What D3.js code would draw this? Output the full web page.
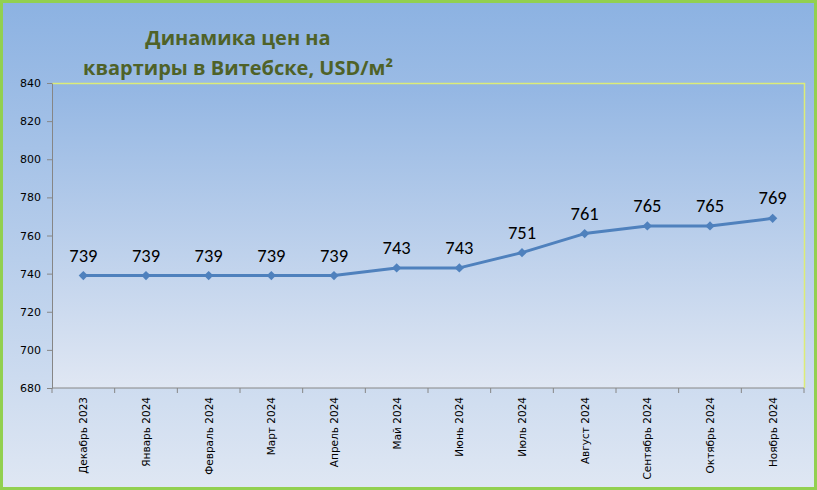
<!DOCTYPE html>
<html>
<head>
<meta charset="utf-8">
<script src="https://cdn.jsdelivr.net/npm/d3@7"></script>
<style>
	body { margin: 0; }
	svg { display: block; }
</style>
</head>
<body>
<div id="chart"></div>
<script>
var months = ["Декабрь 2023", "Январь 2024", "Февраль 2024", "Март 2024", "Апрель 2024", "Май 2024",
	"Июнь 2024", "Июль 2024", "Август 2024", "Сентябрь 2024", "Октябрь 2024", "Ноябрь 2024"]
var prices = [739, 739, 739, 739, 739, 743, 743, 751, 761, 765, 765, 769]
var yTicks = [680, 700, 720, 740, 760, 780, 800, 820, 840]
var titleLines = ["Динамика цен на", "квартиры в Витебске, USD/м²"]

var width = 817, height = 490
var plot = {left: 52, top: 83, right: 804, bottom: 388}

var svg = d3.select("#chart").append("svg")
	.attr("width", width)
	.attr("height", height)

var defs = svg.append("defs")

function gradient(id, c1, c2) {
	var g = defs.append("linearGradient").attr("id", id)
		.attr("x1", 0).attr("y1", 0).attr("x2", 0).attr("y2", 1)
	g.append("stop").attr("offset", "0%").attr("stop-color", c1)
	g.append("stop").attr("offset", "100%").attr("stop-color", c2)
}
gradient("bgGrad", "#8cb2e2", "#dfe7f3")
gradient("plotGrad", "#93b6e3", "#e0e7f3")

// outer frame
svg.append("rect")
	.attr("x", 1.5).attr("y", 1.5)
	.attr("width", width - 3).attr("height", height - 3)
	.attr("fill", "url(#bgGrad)")
	.attr("stroke", "#92d050")
	.attr("stroke-width", 3)

var x = d3.scaleBand().domain(months).range([plot.left, plot.right])
var y = d3.scaleLinear().domain([680, 840]).range([plot.bottom, plot.top])

// plot area
svg.append("rect")
	.attr("x", plot.left).attr("y", plot.top)
	.attr("width", plot.right - plot.left).attr("height", plot.bottom - plot.top)
	.attr("fill", "url(#plotGrad)")

svg.append("path")
	.attr("d", "M" + plot.left + "," + (plot.top + 0.5) + "H" + (plot.right + 0.5) + "V" + plot.bottom)
	.attr("fill", "none")
	.attr("stroke", "#dcec78")
	.attr("stroke-width", 1.5)

// y axis
var yAxis = svg.append("g")
	.attr("transform", "translate(" + plot.left + ",0)")
	.call(d3.axisLeft(y).tickValues(yTicks).tickSize(5).tickSizeOuter(0).tickPadding(6))
yAxis.selectAll("path, line").attr("stroke", "#868686")
yAxis.selectAll("text")
	.attr("font-family", "'DejaVu Sans', Verdana, sans-serif")
	.attr("font-size", "11px")
	.attr("fill", "#000")

// x axis, ticks on category boundaries
var xAxis = svg.append("g")
	.attr("transform", "translate(0," + plot.bottom + ")")
xAxis.append("line")
	.attr("x1", plot.left).attr("x2", plot.right)
	.attr("stroke", "#868686")
xAxis.selectAll(".tick")
	.data(months.concat([null]))
	.join("line")
	.attr("class", "tick")
	.attr("x1", function(d, i) { return plot.left + i * x.step() })
	.attr("x2", function(d, i) { return plot.left + i * x.step() })
	.attr("y1", 0).attr("y2", 5)
	.attr("stroke", "#868686")
xAxis.selectAll(".label")
	.data(months)
	.join("text")
	.attr("class", "label")
	.attr("transform", function(d) {
		return "translate(" + (x(d) + x.bandwidth() / 2 + 4) + ",9) rotate(-90)"
	})
	.attr("text-anchor", "end")
	.attr("font-family", "'DejaVu Sans', Verdana, sans-serif")
	.attr("font-size", "10.5px")
	.attr("fill", "#000")
	.text(function(d) { return d })

// series
var cx = function(d, i) { return x(months[i]) + x.bandwidth() / 2 }

svg.append("path")
	.datum(prices)
	.attr("fill", "none")
	.attr("stroke", "#4f81bd")
	.attr("stroke-width", 3)
	.attr("stroke-linejoin", "round")
	.attr("d", d3.line().x(cx).y(function(d) { return y(d) }))

svg.selectAll(".marker")
	.data(prices)
	.join("path")
	.attr("class", "marker")
	.attr("transform", function(d, i) { return "translate(" + cx(d, i) + "," + y(d) + ")" })
	.attr("d", d3.symbol(d3.symbolDiamond2, 55))
	.attr("fill", "#4f81bd")

svg.selectAll(".value")
	.data(prices)
	.join("text")
	.attr("class", "value")
	.attr("x", cx)
	.attr("y", function(d) { return y(d) - 14 })
	.attr("text-anchor", "middle")
	.attr("font-family", "Carlito, 'Liberation Sans', sans-serif")
	.attr("font-size", "18.5px")
	.attr("fill", "#000")
	.text(function(d) { return d })

// title
svg.selectAll(".title")
	.data(titleLines)
	.join("text")
	.attr("class", "title")
	.attr("x", 238)
	.attr("y", function(d, i) { return 45 + i * 30 })
	.attr("text-anchor", "middle")
	.attr("font-family", "'Open Sans', 'DejaVu Sans', sans-serif")
	.attr("font-weight", "bold")
	.attr("font-size", "20px")
	.attr("fill", "#4f6228")
	.text(function(d) { return d })
</script>
</body>
</html>
